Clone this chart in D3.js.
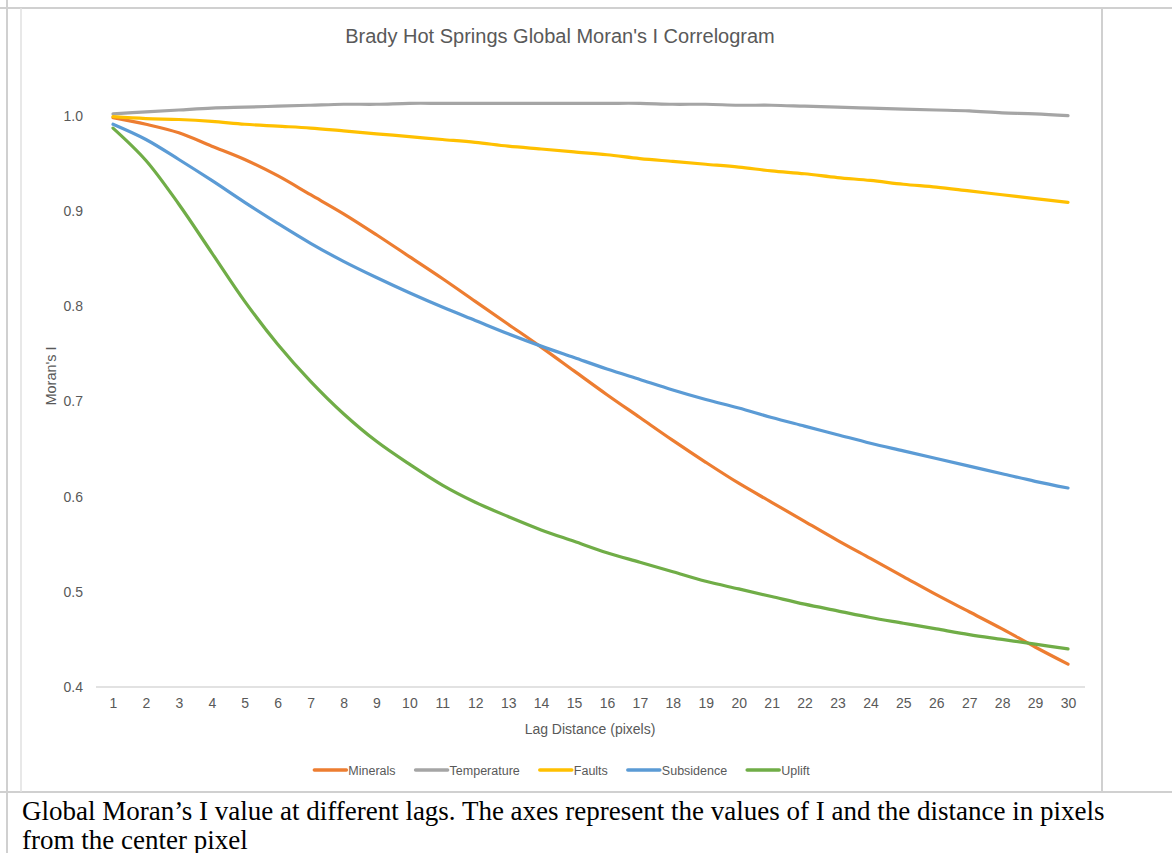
<!DOCTYPE html>
<html>
<head>
<meta charset="utf-8">
<script src="https://cdn.jsdelivr.net/npm/d3@7"></script>
<style>
  html, body { margin: 0; padding: 0; background: #fff; }
  svg { display: block; }
</style>
</head>
<body>
<svg id="chart"></svg>
<script>
let lags = d3.range(1, 31);
let seriesNames = ["Minerals", "Temperature", "Faults", "Subsidence", "Uplift"];
let seriesColors = ["#ED7D31", "#A5A5A5", "#FFC000", "#5B9BD5", "#70AD47"];
let yTicks = [0.4, 0.5, 0.6, 0.7, 0.8, 0.9, 1.0];

let minerals = [0.998, 0.991, 0.982, 0.968, 0.954, 0.937, 0.917, 0.897, 0.875, 0.852,
                0.829, 0.805, 0.781, 0.757, 0.732, 0.707, 0.683, 0.659, 0.636, 0.614,
                0.594, 0.574, 0.554, 0.535, 0.516, 0.497, 0.479, 0.461, 0.442, 0.424];
let temperature = [1.002, 1.004, 1.006, 1.008, 1.009, 1.010, 1.011, 1.012, 1.012, 1.013,
                   1.013, 1.013, 1.013, 1.013, 1.013, 1.013, 1.013, 1.012, 1.012, 1.011,
                   1.011, 1.010, 1.009, 1.008, 1.007, 1.006, 1.005, 1.003, 1.002, 1.000];
let faults = [0.999, 0.997, 0.996, 0.994, 0.991, 0.989, 0.987, 0.984, 0.981, 0.978,
              0.975, 0.972, 0.968, 0.965, 0.962, 0.959, 0.955, 0.952, 0.949, 0.946,
              0.942, 0.939, 0.935, 0.932, 0.928, 0.925, 0.921, 0.917, 0.913, 0.909];
let subsidence = [0.991, 0.975, 0.954, 0.932, 0.909, 0.887, 0.866, 0.847, 0.830, 0.814,
                  0.799, 0.785, 0.771, 0.758, 0.746, 0.734, 0.723, 0.712, 0.702, 0.693,
                  0.683, 0.674, 0.665, 0.656, 0.648, 0.640, 0.632, 0.624, 0.616, 0.609];
let uplift = [0.987, 0.953, 0.907, 0.856, 0.805, 0.760, 0.721, 0.687, 0.658, 0.634,
              0.612, 0.594, 0.579, 0.565, 0.553, 0.541, 0.531, 0.521, 0.511, 0.503,
              0.495, 0.487, 0.480, 0.473, 0.467, 0.461, 0.455, 0.450, 0.445, 0.440];

let seriesValues = [minerals, temperature, faults, subsidence, uplift];

function drawChart() {
    let w = 1172, h = 853;
    let svg = d3.select("#chart").attr("width", w).attr("height", h);

    // table / chart frame
    let frame = svg.append("g").attr("stroke", "#d0d0d0").attr("stroke-width", 2);
    frame.append("line").attr("x1", 0).attr("x2", w).attr("y1", 8).attr("y2", 8);
    frame.append("line").attr("x1", 7).attr("x2", 7).attr("y1", 0).attr("y2", h);
    frame.append("line").attr("x1", 0).attr("x2", w).attr("y1", 792).attr("y2", 792);
    frame.append("line").attr("x1", 21).attr("x2", 21).attr("y1", 8).attr("y2", 792)
        .attr("stroke", "#e0e0e0").attr("stroke-width", 1.5);
    frame.append("line").attr("x1", 1102).attr("x2", 1102).attr("y1", 8).attr("y2", 792);

    let x = d3.scalePoint().domain(lags).range([113, 1068]);
    let y = d3.scaleLinear().domain([0.4, 1.0]).range([687, 115.7]);

    // x axis
    let xAxis = svg.append("g")
        .attr("transform", "translate(0,687)")
        .call(d3.axisBottom(x).tickSize(0).tickPadding(11));
    xAxis.select(".domain").remove();
    svg.append("line")
        .attr("x1", 96).attr("x2", 1085).attr("y1", 687).attr("y2", 687)
        .attr("stroke", "#d9d9d9").attr("stroke-width", 1.5);

    // y axis
    let yAxis = svg.append("g")
        .attr("transform", "translate(83,0)")
        .call(d3.axisLeft(y).tickValues(yTicks).tickFormat(d3.format(".1f")).tickSize(0).tickPadding(0));
    yAxis.select(".domain").remove();

    svg.selectAll(".tick text")
        .style("font-family", "Liberation Sans, sans-serif")
        .style("font-size", "14px")
        .style("fill", "#595959");

    // lines
    let line = d3.line()
        .x((d, i) => x(lags[i]))
        .y(d => y(d))
        .curve(d3.curveCatmullRom.alpha(0.5));

    svg.selectAll("path.series")
        .data(seriesValues)
        .enter()
        .append("path")
        .attr("class", "series")
        .attr("fill", "none")
        .attr("stroke", (d, i) => seriesColors[i])
        .attr("stroke-width", 3.2)
        .attr("stroke-linecap", "round")
        .attr("stroke-linejoin", "round")
        .attr("d", line);

    // titles
    svg.append("text")
        .attr("x", 560).attr("y", 43)
        .attr("text-anchor", "middle")
        .style("font-family", "Liberation Sans, sans-serif")
        .style("font-size", "20px")
        .style("fill", "#595959")
        .text("Brady Hot Springs Global Moran's I Correlogram");

    svg.append("text")
        .attr("x", 590).attr("y", 734)
        .attr("text-anchor", "middle")
        .style("font-family", "Liberation Sans, sans-serif")
        .style("font-size", "14px")
        .style("fill", "#595959")
        .text("Lag Distance (pixels)");

    svg.append("text")
        .attr("transform", "translate(56,376) rotate(-90)")
        .attr("text-anchor", "middle")
        .style("font-family", "Liberation Sans, sans-serif")
        .style("font-size", "14.5px")
        .style("fill", "#595959")
        .text("Moran's I");

    // legend, centred under the plot
    let legend = svg.append("g");
    let lx = 0;
    seriesNames.forEach((name, i) => {
        let g = legend.append("g").attr("transform", `translate(${lx},0)`);
        g.append("line")
            .attr("x1", 0).attr("x2", 32).attr("y1", 0).attr("y2", 0)
            .attr("stroke", seriesColors[i]).attr("stroke-width", 3.5)
            .attr("stroke-linecap", "round");
        let t = g.append("text")
            .attr("x", 34).attr("y", 4.5)
            .style("font-family", "Liberation Sans, sans-serif")
            .style("font-size", "12.5px")
            .style("fill", "#595959")
            .text(name);
        lx += 34 + t.node().getComputedTextLength() + 20;
    });
    let total = lx - 20;
    legend.attr("transform", `translate(${562 - total / 2},770)`);

    // caption
    let caption = svg.append("g")
        .style("font-family", "Liberation Serif, serif")
        .style("font-size", "27px")
        .style("fill", "#000");
    caption.append("text").attr("x", 22).attr("y", 820)
        .text("Global Moran\u2019s I value at different lags. The axes represent the values of I and the distance in pixels");
    caption.append("text").attr("x", 22).attr("y", 849)
        .text("from the center pixel");
}

window.onload = function() {
    drawChart();
}
</script>
</body>
</html>
